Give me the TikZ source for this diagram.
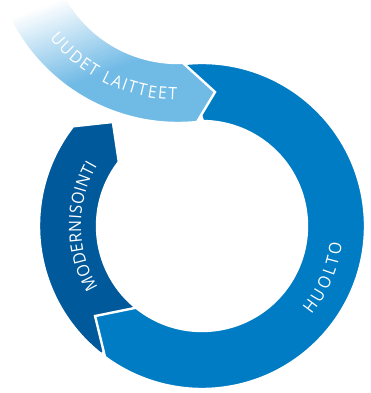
\documentclass[tikz,border=0pt]{standalone}
\usepackage{fontspec}
\newfontfamily\labfont[FakeStretch=0.93]{Open Sans}
\usetikzlibrary{decorations.text}
\definecolor{lb}{RGB}{112,186,230}
\definecolor{md}{RGB}{0,124,196}
\definecolor{dk}{RGB}{0,89,155}
\tikzset{
  segment/.style={draw=white, line width=2.4pt, line join=miter},
  ringtext/.style={decorate, decoration={text along path, text color=white,
      text align={fit to path}, text={|\labfont\fontsize{17}{20}\selectfont|#1}}}
}
\begin{document}
\begin{tikzpicture}[x=1pt,y=1pt]
\useasboundingbox (0,0) rectangle (371,-393);
\coordinate (C) at (202,-226);
\coordinate (L) at (178,65);
% MODERNISOINTI
\path[segment, fill=dk]
  ([shift={(232:163)}]C) arc[start angle=232, end angle=142.3, radius=163]
  -- ([shift={(130.6:137)}]C) -- ([shift={(142.4:105)}]C)
  arc[start angle=142.4, end angle=232, radius=105] -- cycle;
% HUOLTO
\path[segment, fill=md]
  ([shift={(96:163)}]C) arc[start angle=96, end angle=-126.5, radius=163]
  -- ([shift={(-139.9:139.8)}]C) -- ([shift={(-128.9:105)}]C)
  arc[start angle=-128.9, end angle=89.5, radius=105] -- cycle;
% UUDET LAITTEET band with fade
\begin{scope}
  \clip ([shift={(195:128)}]L) arc[start angle=195, end angle=272.2, radius=128]
    -- (215,-92) -- ([shift={(275.8:188)}]L)
    arc[start angle=275.8, end angle=195, radius=188] -- cycle;
  \fill[lb] (-10,10) rectangle (240,-140);
  \begin{scope}[rotate=-70]
    \fill[white] (-400,-400) rectangle (20.5,400);
    \foreach \i in {0,...,42}{
      \pgfmathsetmacro\p{100*(\i/42)}
      \fill[lb!\p!white] (20+2*\i,-400) rectangle (22.6+2*\i,400);
    }
  \end{scope}
\end{scope}
\path[segment]
  ([shift={(195:128)}]L) arc[start angle=195, end angle=272.2, radius=128]
  -- (215,-92) -- ([shift={(275.8:188)}]L)
  arc[start angle=275.8, end angle=195, radius=188] -- cycle;
% texts
\path[ringtext={UUDET LAITTEET}]
  ([shift={(219:165)}]L) arc[start angle=219, end angle=269.6, radius=165];
\path[ringtext={HUOLTO}]
  ([shift={(-39:141)}]C) arc[start angle=-39, end angle=-7, radius=141];
\path[ringtext={MODERNISOINTI}]
  ([shift={(210.7:121)}]C) arc[start angle=210.7, end angle=149.9, radius=121];
\end{tikzpicture}
\end{document}
